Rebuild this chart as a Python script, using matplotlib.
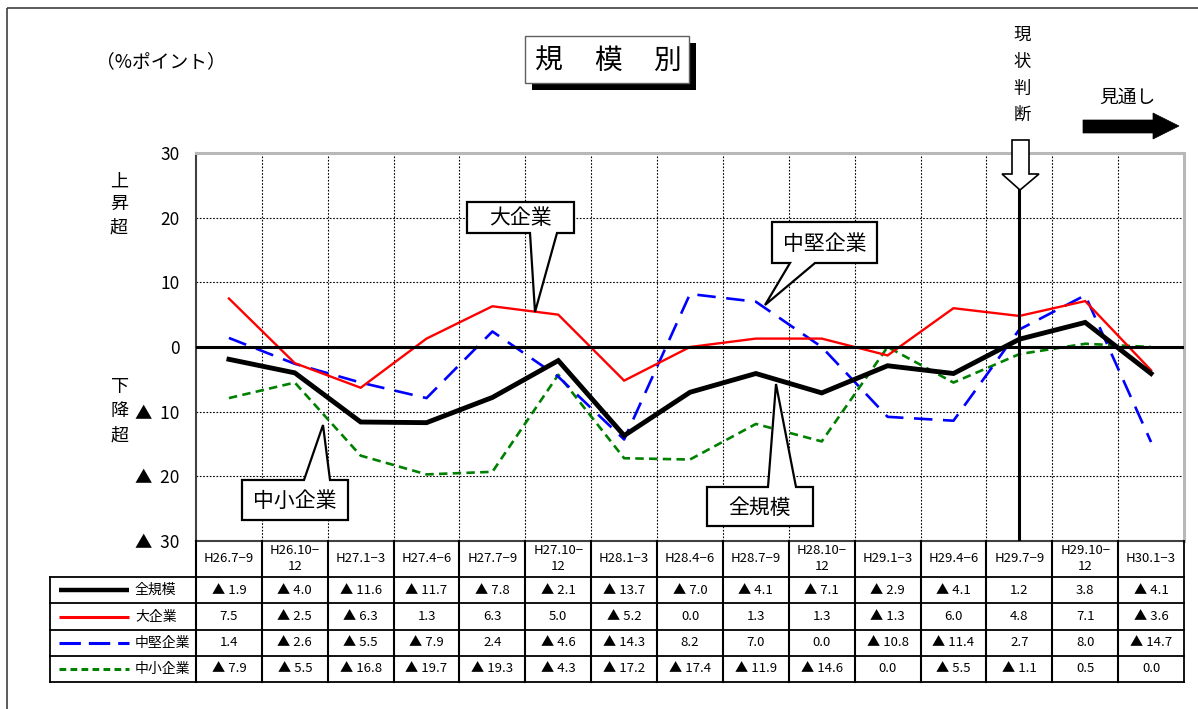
import matplotlib
matplotlib.use("Agg")
import matplotlib.pyplot as plt
import matplotlib.transforms as mtransforms
from matplotlib import font_manager
from matplotlib.patches import Polygon, Rectangle

# data
periods = ["H26.7−9", "H26.10−\n12", "H27.1−3", "H27.4−6", "H27.7−9", "H27.10−\n12",
           "H28.1−3", "H28.4−6", "H28.7−9", "H28.10−\n12", "H29.1−3", "H29.4−6",
           "H29.7−9", "H29.10−\n12", "H30.1−3"]
all_firms = [-1.9, -4.0, -11.6, -11.7, -7.8, -2.1, -13.7, -7.0, -4.1, -7.1, -2.9, -4.1, 1.2, 3.8, -4.1]
large = [7.5, -2.5, -6.3, 1.3, 6.3, 5.0, -5.2, 0.0, 1.3, 1.3, -1.3, 6.0, 4.8, 7.1, -3.6]
midsize = [1.4, -2.6, -5.5, -7.9, 2.4, -4.6, -14.3, 8.2, 7.0, 0.0, -10.8, -11.4, 2.7, 8.0, -14.7]
small = [-7.9, -5.5, -16.8, -19.7, -19.3, -4.3, -17.2, -17.4, -11.9, -14.6, 0.0, -5.5, -1.1, 0.5, 0.0]
series_names = ["全規模", "大企業", "中堅企業", "中小企業"]
yticks = [30, 20, 10, 0, -10, -20, -30]
current_idx = 12  # 現状判断

installed = {f.name for f in font_manager.fontManager.ttflist}
fams = [f for f in ["Liberation Sans Narrow", "Noto Sans CJK JP", "DejaVu Sans"] if f in installed]
cjk = [f for f in ["Noto Sans CJK JP", "DejaVu Sans"] if f in installed]
plt.rcParams["font.family"] = fams
plt.rcParams["axes.unicode_minus"] = False

W, H = 1198, 709
fig = plt.figure(figsize=(W / 100, H / 100), dpi=100)


def box(l, t, r, b):
    return [l / W, 1 - b / H, (r - l) / W, (b - t) / H]


ax = fig.add_axes(box(196, 153, 1184, 541))
x = list(range(len(periods)))

styles = [
    dict(color="black", lw=3.5),
    dict(color="#ff0000", lw=1.7),
    dict(color="#0000ff", lw=1.9, dashes=(7, 4)),
    dict(color="#008000", lw=1.9, dashes=(3.2, 2)),
]
values = [all_firms, large, midsize, small]
for vals, st in zip(values[::-1], styles[::-1]):
    ax.plot(x, vals, solid_joinstyle="miter", **st)

ax.set_xlim(-0.5, len(periods) - 0.5)
ax.set_ylim(-30, 30)
ax.axhline(0, color="black", lw=2.2, zorder=3)
ax.axvline(current_idx, color="black", lw=2.2, zorder=3)
for v in [-20, -10, 10, 20]:
    ax.axhline(v, color="black", lw=0.8, ls=(0, (1.5, 1.5)), zorder=0)
for i in range(len(periods) - 1):
    ax.axvline(i + 0.5, color="black", lw=0.8, ls=(0, (1.5, 1.5)), zorder=0)

ax.set_xticks([])
ax.set_yticks(yticks)
ax.set_yticklabels([str(v) if v >= 0 else "▲  " + str(-v) for v in yticks], fontsize=12.5)
ax.tick_params(axis="y", length=0, pad=12)
for s in ["left", "bottom"]:
    ax.spines[s].set_color("#404040")
    ax.spines[s].set_linewidth(1.5)
for s in ["top", "right"]:
    ax.spines[s].set_color("#b8b8b8")
    ax.spines[s].set_linewidth(2.2)

# overlay in pixel coords for table and annotations
ov = fig.add_axes([0, 0, 1, 1], zorder=5)
ov.set_xlim(0, W)
ov.set_ylim(H, 0)
ov.set_axis_off()

# outer frame
ov.add_patch(Rectangle((7, 8), W, H, fill=False, ec="#404040", lw=1.2))

# table
tr = mtransforms.blended_transform_factory(ax.transData, ov.transData)
row_y = [541, 577, 603, 630, 656, 682]
for i, lab in enumerate(periods):
    ov.text(i, 559, lab, transform=tr, ha="center", va="center", fontsize=9.5, linespacing=1.3)
sample_styles = [
    dict(color="black", lw=3.2),
    dict(color="#ff0000", lw=2.2),
    dict(color="#0000ff", lw=2.2, dashes=(7, 2.6)),
    dict(color="#008000", lw=2.2, dashes=(2.2, 1.4)),
]
for r, vals in enumerate(values):
    yc = (row_y[r + 1] + row_y[r + 2]) / 2
    for i, v in enumerate(vals):
        txt = "%.1f" % v if v >= 0 else "▲ %.1f" % -v
        ov.text(i, yc, txt, transform=tr, ha="center", va="center", fontsize=9.5)
    ov.plot([59, 129], [yc, yc], solid_capstyle="butt", **sample_styles[r])
    ov.text(135, yc, series_names[r], ha="left", va="center", fontsize=10, family=cjk)
for yy in row_y[1:]:
    ov.plot([50, 1184], [yy, yy], color="black", lw=1.3)
ov.plot([50, 50], [577, 682], color="black", lw=1.3)
ov.plot([1184, 1184], [541, 682], color="black", lw=1.3)
for i in range(len(periods)):
    ov.plot([i - 0.5, i - 0.5], [541, 682], color="black", lw=1.5, transform=tr)

# title box
ov.add_patch(Rectangle((532, 43), 164, 47, fc="black", ec="none"))
ov.add_patch(Rectangle((525, 36), 164, 47, fc="white", ec="#606060", lw=1))
for cx, ch in zip([549, 608, 667], "規模別"):
    ov.text(cx, 61, ch, ha="center", va="center", fontsize=20, family=cjk)

ov.text(96, 62, "（%ポイント）", ha="left", va="center", fontsize=13.5, family=cjk)
for cy, ch in zip([182, 204, 227], "上昇超"):
    ov.text(119, cy, ch, ha="center", va="center", fontsize=13, family=cjk)
for cy, ch in zip([387, 411, 435], "下降超"):
    ov.text(120, cy, ch, ha="center", va="center", fontsize=13, family=cjk)

# 現状判断 / 見通し
for cy, ch in zip([35, 62, 89, 115], "現状判断"):
    ov.text(1022, cy, ch, ha="center", va="center", fontsize=12.5, family=cjk)
ov.add_patch(Polygon([(1012, 140), (1029, 140), (1029, 174), (1039, 174), (1020, 190),
                      (1002, 174), (1012, 174)], closed=True, fc="white", ec="black", lw=1.2))
ov.text(1127, 97, "見通し", ha="center", va="center", fontsize=13.5, family=cjk)
ov.add_patch(Polygon([(1083, 120), (1153, 120), (1153, 113), (1179, 126), (1153, 139),
                      (1153, 133), (1083, 133)], closed=True, fc="black", ec="black", lw=0.5))


def callout(l, t, r, b, w0, w1, tip, label, top=True):
    if top:
        pts = [(l, t), (w0, t), tip, (w1, t), (r, t), (r, b), (l, b)]
    else:
        pts = [(l, t), (r, t), (r, b), (w1, b), tip, (w0, b), (l, b)]
    ov.add_patch(Polygon(pts, closed=True, fc="white", ec="black", lw=1.6, joinstyle="miter"))
    ov.text((l + r) / 2, (t + b) / 2 + 1, label, ha="center", va="center", fontsize=15, family=cjk)


callout(467, 202, 574, 233, 530, 557, (535, 312), series_names[1], top=False)
callout(772, 222, 877, 263, 790, 815, (765, 305), series_names[2], top=False)
callout(707, 487, 813, 526, 768, 796, (776, 384), series_names[0], top=True)
callout(242, 480, 348, 520, 304, 330, (323, 425), series_names[3], top=True)

fig.savefig("out.png", dpi=100)
